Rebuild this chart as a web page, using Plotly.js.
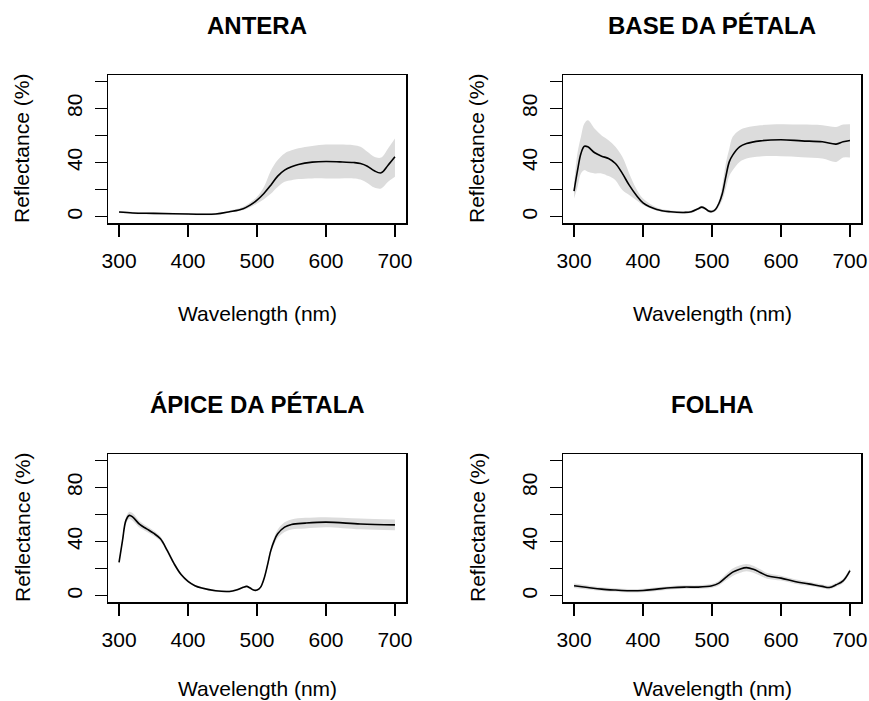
<!DOCTYPE html>
<html>
<head>
<meta charset="utf-8">
<script src="https://cdn.plot.ly/plotly-3.0.1.min.js"></script>
<style>html,body{margin:0;padding:0;background:#fff;}#chart{width:869px;height:701px;}</style>
</head>
<body>
<div id="chart"></div>
<script>
// ---- Data ----
const panelTitles = ["ANTERA", "BASE DA PÉTALA", "ÁPICE DA PÉTALA", "FOLHA"];
const xTickVals = [300, 400, 500, 600, 700];
const yTickVals = [0, 20, 40, 60, 80, 100];
const yTickText = ["0", "", "40", "", "80", ""];

const wlAntera = [300,320,350,400,440,460,480,490,500,510,520,530,540,550,560,580,600,620,640,650,660,670,680,690,700];
const meanAntera = [3.5,2.8,2.5,2.0,2.0,3.7,6.0,8.6,12.3,17.2,23.3,30.0,34.4,36.9,38.6,40.3,40.8,40.5,40.0,39.3,37.3,33.9,32.4,38.0,44.2];
const upperAntera = [4.2,3.5,3.2,2.7,2.7,4.5,7.4,10.5,14.7,22,34,41.8,46.7,49,50.5,52.3,53.3,53.3,52.8,51.6,47.9,44.2,43.7,50.4,57.7];
const lowerAntera = [2.8,2.1,1.8,1.3,1.3,2.9,4.9,7,9.8,13,17,22,25.8,27,27.8,28.3,28.3,28.3,28.3,27.5,25,21.6,20.9,25.8,29.5];

const wlBase = [300,305,310,315,320,330,340,350,360,370,380,390,400,420,440,460,470,480,485,490,495,500,505,510,515,520,525,530,540,550,570,600,630,660,680,690,700];
const meanBase = [19,34,46.7,52,51.6,47.2,44.7,43,39.3,32,23.3,16,10.3,5.4,3.7,3.2,3.7,5.9,7.1,6.1,4.2,3.9,5.4,9.8,17.2,29.5,40.5,45.5,51.6,54,56,56.8,56,55.3,53.6,55.3,56.3];
const upperBase = [24.6,47,59,68.8,71.3,65,60,56.5,51.6,44.2,32,20.9,13.5,6.9,4.7,4.2,4.7,6.9,8.1,7.1,5.2,4.9,6.6,12,23.3,39.3,50,59,63.9,65.8,67.5,68.3,68,67.6,66.3,68,68.3];
const lowerBase = [13.5,22,32,34.4,33.2,32,32,30,27,19.7,16,12.3,8.6,4.4,2.7,2.2,2.7,4.9,6.1,5.1,3.2,2.9,4.2,7.6,12.3,20.9,30,34.4,40.5,43,44.5,44.7,44,43,40.5,43.7,43.7];

const wlApice = [300,305,310,315,320,330,340,350,360,370,380,390,400,410,420,440,460,470,480,485,490,495,500,505,510,515,520,525,530,540,550,570,600,650,700];
const meanApice = [24.7,40.7,55.6,59.3,58,52.6,49.4,46.2,42,33.3,23.5,15.6,10.6,7.4,5.7,3.7,3.2,4.2,6.2,6.9,5.7,4.2,4.2,6.2,12.3,22.2,33.3,40.7,45.7,50.6,52.6,53.6,54.3,53,52.3];
const upperApice = [26.2,42.5,58,62,60.8,55,51.5,48.2,43.8,34.8,24.7,16.6,11.4,8.1,6.4,4.4,3.9,4.9,6.9,7.6,6.4,4.9,4.9,7,13.5,24,35.5,43.3,48.8,54.2,56.3,57.5,58,57,56.2];
const lowerApice = [23.2,38.9,53.2,56.6,55.2,50.2,47.3,44.2,40.2,31.8,22.3,14.6,9.8,6.7,5,3,2.5,3.5,5.5,6.2,5,3.5,3.5,5.4,11.1,20.4,31.1,38.1,42.6,47,48.9,49.7,50.6,49,48.4];

const wlFolha = [300,320,340,360,380,400,420,440,460,480,500,510,520,530,540,550,560,570,580,600,620,640,660,670,680,690,700];
const meanFolha = [7.4,6.1,4.9,4.2,3.7,3.9,4.9,5.9,6.4,6.4,7.4,9.3,13.5,17.4,19.6,20.8,19.6,17.2,14.7,13,10.5,8.8,6.9,6.1,8.1,11,18.6];
const upperFolha = [9,7.6,6.3,5.5,5,5.2,6.2,7.2,7.7,7.7,8.8,11,15.8,20.2,22.4,23.5,22.2,19.6,16.8,14.8,12.1,10.3,8.3,7.5,9.6,12.6,20.3];
const lowerFolha = [5.8,4.6,3.5,2.9,2.4,2.6,3.6,4.6,5.1,5.1,6,7.6,11.2,14.6,16.8,18.1,17,14.8,12.6,11.2,8.9,7.3,5.5,4.7,6.6,9.4,16.9];

const xTitle = "Wavelength (nm)";
const yTitle = "Reflectance (%)";

// ---- Build ----
const panels = [
  {wl: wlAntera, mean: meanAntera, up: upperAntera, lo: lowerAntera},
  {wl: wlBase, mean: meanBase, up: upperBase, lo: lowerBase},
  {wl: wlApice, mean: meanApice, up: upperApice, lo: lowerApice},
  {wl: wlFolha, mean: meanFolha, up: upperFolha, lo: lowerFolha}
];
const W = 869, H = 701;
const boxes = [
  {l:108, r:406, t:75, b:223, xt:90},
  {l:563, r:861, t:75, b:223, xt:90},
  {l:108, r:406, t:454, b:602, xt:86},
  {l:563, r:861, t:454, b:602, xt:86}
];
const FONT = "Arial, 'Liberation Sans', sans-serif";
const traces = [];
const layout = {
  width: W, height: H,
  margin: {l:0, r:0, t:0, b:0},
  paper_bgcolor: "#fff", plot_bgcolor: "#fff",
  showlegend: false,
  font: {family: FONT, size: 20, color: "#000"},
  annotations: []
};
panels.forEach((p, i) => {
  const n = i === 0 ? "" : String(i + 1);
  const xa = "x" + n, ya = "y" + n;
  traces.push({x: p.wl, y: p.lo, xaxis: xa, yaxis: ya, type: "scatter", mode: "lines",
    line: {width: 0, shape: "spline", color: "#d9d9d9"}, hoverinfo: "skip"});
  traces.push({x: p.wl, y: p.up, xaxis: xa, yaxis: ya, type: "scatter", mode: "lines",
    fill: "tonexty", fillcolor: "#dcdcdc", line: {width: 0, shape: "spline", color: "#d9d9d9"}, hoverinfo: "skip"});
  traces.push({x: p.wl, y: p.mean, xaxis: xa, yaxis: ya, type: "scatter", mode: "lines",
    line: {width: 1.6, shape: "spline", color: "#000"}});
  const b = boxes[i];
  layout["xaxis" + n] = {
    domain: [b.l / W, b.r / W], anchor: ya, range: [284, 716],
    tickvals: xTickVals, ticks: "outside", ticklen: 12, tickwidth: 1.3, tickcolor: "#000",
    showline: true, mirror: true, linecolor: "#000", linewidth: 1.5,
    showgrid: false, zeroline: false, ticklabelstandoff: 6,
    tickfont: {family: FONT, size: 21, color: "#000"}
  };
  layout["yaxis" + n] = {
    domain: [1 - b.b / H, 1 - b.t / H], anchor: xa, range: [-4.6, 104.6],
    tickvals: yTickVals, ticktext: yTickText, tickangle: -90,
    ticks: "outside", ticklen: 12, tickwidth: 1.3, tickcolor: "#000",
    showline: true, mirror: true, linecolor: "#000", linewidth: 1.5,
    showgrid: false, zeroline: false, ticklabelstandoff: 4,
    tickfont: {family: FONT, size: 21, color: "#000"}
  };
  const cx = (b.l + b.r) / 2 / W;
  layout.annotations.push({text: "<b>" + panelTitles[i] + "</b>", xref: "paper", yref: "paper",
    x: cx, y: 1 - (b.t - 49) / H, xanchor: "center", yanchor: "middle", showarrow: false,
    font: {family: FONT, size: 24, color: "#000"}});
  layout.annotations.push({text: xTitle, xref: "paper", yref: "paper",
    x: cx, y: 1 - (b.b + b.xt) / H, xanchor: "center", yanchor: "middle", showarrow: false,
    font: {family: FONT, size: 21, color: "#000"}});
  layout.annotations.push({text: yTitle, xref: "paper", yref: "paper", textangle: -90,
    x: (b.l - 86) / W, y: 1 - (b.t + b.b) / 2 / H, xanchor: "center", yanchor: "middle", showarrow: false,
    font: {family: FONT, size: 21, color: "#000"}});
});
Plotly.newPlot("chart", traces, layout, {staticPlot: true, displayModeBar: false});
</script>
</body>
</html>
